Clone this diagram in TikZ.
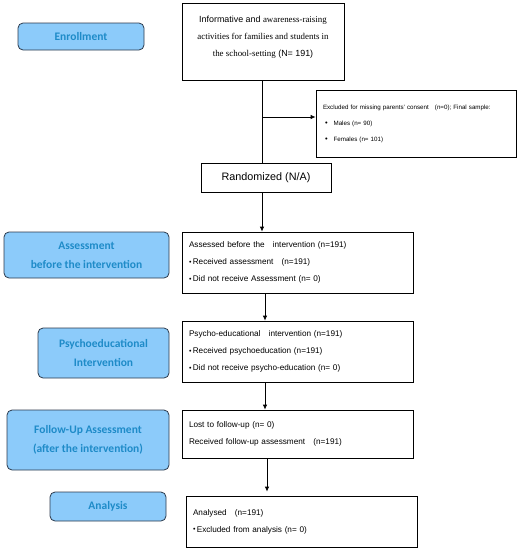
\documentclass[tikz,border=0pt]{standalone}
\usepackage{fontspec}
\setmainfont{Liberation Sans}
\newfontfamily\serifface{Liberation Serif}
\newfontfamily\calibriface{Carlito}
\usetikzlibrary{arrows.meta}
\definecolor{stagefill}{HTML}{8CCBFA}
\definecolor{stagetext}{HTML}{1E8BC8}
\definecolor{stageline}{HTML}{2C3A4C}
\newcommand{\bul}{{\fontsize{7}{7}\selectfont\raisebox{0.2pt}{•}}\,}
\newcommand{\bigbul}{{\fontsize{7.5}{7.5}\selectfont •}\hspace{6pt}}
\tikzset{
  stage/.style={draw=stageline, line width=0.8pt, fill=stagefill, rounded corners=5pt,
    text=stagetext, align=center, inner sep=0pt,
    font=\calibriface\bfseries\fontsize{11.5}{19}\selectfont},
  infobox/.style={draw=black, line width=0.7pt, fill=white, inner xsep=7pt, inner ysep=0pt,
    align=left, font=\fontsize{8.2}{17}\selectfont},
  arr/.style={line width=0.8pt, -{Latex[length=5pt,width=4.5pt]}},
  plainline/.style={line width=0.8pt}
}
\begin{document}
\begin{tikzpicture}[x=1pt,y=-1pt]
\useasboundingbox (0,0) rectangle (521,550);
% stage labels
\node[stage, minimum width=126pt, minimum height=27pt] (enr) at (81,36.5) {Enrollment};
\node[stage, minimum width=165pt, minimum height=46pt] (sassess) at (86.5,255) {Assessment\\before the intervention};
\node[stage, minimum width=131pt, minimum height=50pt] (spsy) at (103.5,353) {Psychoeducational\\Intervention};
\node[stage, minimum width=162pt, minimum height=60pt] (sfollow) at (88,440) {Follow-Up Assessment\\(after the intervention)};
\node[stage, minimum width=116pt, minimum height=29pt] (sanal) at (108,506.5) {Analysis};
% top box
\node[draw=black, line width=0.7pt, minimum width=162pt, minimum height=77pt] (top) at (263,41.5) {};
\node[align=center, inner sep=0pt, font=\fontsize{8.9}{17}\selectfont] (toptxt) at (263,37.5) {Informative and {\serifface awareness-raising}\\{\serifface activities for families and students in}\\{\serifface the school-setting} (N= 191)};
% excluded
\node[draw=black, line width=0.7pt, minimum width=200pt, minimum height=67pt, text width=186pt, inner xsep=7pt, inner ysep=0pt, align=left, font=\fontsize{6.2}{16}\selectfont] (excl) at (416,123.5) {Excluded for missing parents' consent\quad (n=0); Final sample:\\\hspace{2pt}\bigbul Males (n= 90)\\\hspace{2pt}\bigbul Females (n= 101)};
% randomized
\node[draw=black, line width=0.7pt, minimum width=130pt, minimum height=29pt, inner sep=0pt, font=\fontsize{10.8}{12}\selectfont] (rand) at (266,177.5) {Randomized (N/A)};
% info boxes
\node[infobox, minimum width=231pt, minimum height=61pt, text width=217pt] (assess) at (297.5,262.5) {Assessed before the\quad intervention (n=191)\\\bul Received assessment\quad (n=191)\\\bul Did not receive Assessment (n= 0)};
\node[infobox, minimum width=231pt, minimum height=61pt, text width=217pt] (psy) at (297.5,351.5) {Psycho-educational\quad intervention (n=191)\\\bul Received psychoeducation (n=191)\\\bul Did not receive psycho-education (n= 0)};
\node[infobox, minimum width=231pt, minimum height=48pt, text width=217pt] (follow) at (297.5,434) {Lost to follow-up (n= 0)\\Received follow-up assessment\quad (n=191)};
\node[infobox, minimum width=231pt, minimum height=51pt, text width=217pt] (anal) at (301.5,521.5) {Analysed\quad (n=191)\\\bul Excluded from analysis (n= 0)};
% connectors
\draw[plainline] (top.south -| 262,0) -- (rand.north -| 262,0);
\coordinate (branch) at (262,117);
\draw[arr] (branch) -- (branch -| excl.west);
\draw[arr] (rand.south -| 262,0) -- (assess.north -| 262,0);
\draw[arr] (assess.south -| 265,0) -- (psy.north -| 265,0);
\draw[arr] (psy.south -| 265,0) -- (follow.north -| 265,0);
\draw[arr] (follow.south -| 267,0) -- ([yshift=4pt]anal.north -| 267,0);
\end{tikzpicture}
\end{document}
